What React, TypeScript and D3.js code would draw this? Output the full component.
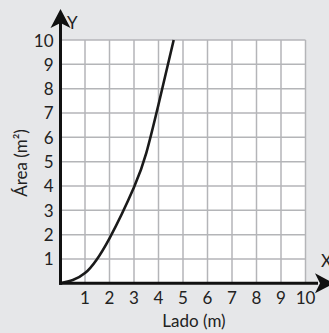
import React from "react";
import * as d3 from "d3";

const W = 329;
const H = 333;

const xTicks = [1, 2, 3, 4, 5, 6, 7, 8, 9, 10];
const yTicks = [1, 2, 3, 4, 5, 6, 7, 8, 9, 10];
const xTickLabels = ["1", "2", "3", "4", "5", "6", "7", "8", "9", "10"];
const yTickLabels = ["1", "2", "3", "4", "5", "6", "7", "8", "9", "10"];

const lado = [0, 1, 2, 3, 3.5, 4, 4.62];
const area = [0, 0.42, 1.85, 3.95, 5.35, 7.35, 10];

const xLabel = "Lado (m)";
const yLabel = "Área (m²)";

const FONT = "Lato, 'Open Sans', sans-serif";

export default function App() {
  const x = d3.scaleLinear().domain([0, 10]).range([60.5, 305.5]);
  const y = d3.scaleLinear().domain([0, 10]).range([283.3, 40]);

  const pts: [number, number][] = lado.map((v, i) => [v, area[i]]);
  const line = d3
    .line<[number, number]>()
    .x((d) => x(d[0]))
    .y((d) => y(d[1]))
    .curve(d3.curveNatural);

  const x0 = x(0);
  const y0 = y(0);

  return (
    <svg
      width={W}
      height={H}
      style={{ position: "fixed", left: 0, top: 0, display: "block" }}
      fontFamily={FONT}
    >
      <rect x={0} y={0} width={W} height={H} fill="#e6e7e9" />
      <rect x={x(0)} y={y(10)} width={x(10) - x(0)} height={y(0) - y(10)} fill="#ffffff" />
      {xTicks.map((t) => (
        <line key={"gx" + t} x1={x(t)} x2={x(t)} y1={y(0)} y2={y(10)} stroke="#b4b5b8" strokeWidth={1.5} />
      ))}
      {yTicks.map((t) => (
        <line key={"gy" + t} x1={x(0)} x2={x(10)} y1={y(t)} y2={y(t)} stroke="#b4b5b8" strokeWidth={1.5} />
      ))}
      <path d={line(pts) || ""} fill="none" stroke="#1a1a1a" strokeWidth={2.6} />
      {/* axes */}
      <line x1={x0} x2={x0} y1={y0 + 1.5} y2={22} stroke="#111" strokeWidth={3} />
      <line x1={x0 - 1.5} x2={318} y1={y0} y2={y0} stroke="#111" strokeWidth={3} />
      <path d={`M${x0},9 L${x0 + 10},28 L${x0},23 L${x0 - 10},28 Z`} fill="#111" />
      <path d={`M334,${y0} L315,${y0 - 10} L320,${y0} L315,${y0 + 10} Z`} fill="#111" />
      <text x={67} y={29} fontSize={17} fill="#222">Y</text>
      <text x={321} y={267} fontSize={17} fill="#222">X</text>
      {xTicks.map((t, i) => (
        <text key={"tx" + t} x={x(t)} y={304} fontSize={17} textAnchor="middle" fill="#222">
          {xTickLabels[i]}
        </text>
      ))}
      {yTicks.map((t, i) => (
        <text key={"ty" + t} x={53.5} y={y(t) + 6.5} fontSize={17} textAnchor="end" fill="#222">
          {yTickLabels[i]}
        </text>
      ))}
      <text x={194} y={326.5} fontSize={17} textAnchor="middle" fill="#222">
        {xLabel}
      </text>
      <text
        transform={`translate(27,163) rotate(-90)`}
        fontSize={17}
        textAnchor="middle"
        fill="#222"
      >
        {yLabel}
      </text>
    </svg>
  );
}
